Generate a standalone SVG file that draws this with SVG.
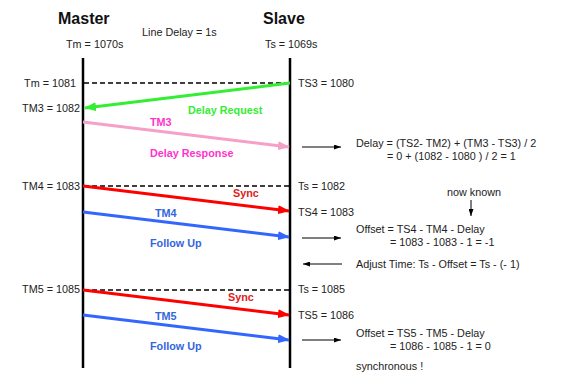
<svg xmlns="http://www.w3.org/2000/svg" width="567" height="379" viewBox="0 0 567 379">
<style>
text{font-family:"Liberation Sans",Arial,sans-serif;font-size:10.8px;fill:#222}
.h{font-size:16px;font-weight:bold;fill:#111}
.b{font-weight:bold}
.life{stroke:#000;stroke-width:2.5}
.dash{stroke:#000;stroke-width:1.3;stroke-dasharray:5,3}
.msg{stroke-width:3;fill:none}
.thin{stroke:#000;stroke-width:1;fill:none}
</style>
<defs>
<marker id="ag" markerWidth="12" markerHeight="9" refX="11" refY="4.5" orient="auto" markerUnits="userSpaceOnUse"><path d="M0,0L12,4.5L0,9z" fill="#33ee33"/></marker>
<marker id="ap" markerWidth="12" markerHeight="9" refX="11" refY="4.5" orient="auto" markerUnits="userSpaceOnUse"><path d="M0,0L12,4.5L0,9z" fill="#f5a0c8"/></marker>
<marker id="ar" markerWidth="12" markerHeight="9" refX="11" refY="4.5" orient="auto" markerUnits="userSpaceOnUse"><path d="M0,0L12,4.5L0,9z" fill="#ff0000"/></marker>
<marker id="ab" markerWidth="12" markerHeight="9" refX="11" refY="4.5" orient="auto" markerUnits="userSpaceOnUse"><path d="M0,0L12,4.5L0,9z" fill="#3366ff"/></marker>
<marker id="ak" markerWidth="7" markerHeight="5" refX="7" refY="2.5" orient="auto" markerUnits="userSpaceOnUse"><path d="M0,0L7,2.5L0,5z" fill="#000"/></marker>
</defs>
<g id="master">
<text class="h" x="58" y="24">Master</text>
<text x="66" y="48">Tm = 1070s</text>
<line class="life" x1="83" y1="58" x2="83" y2="368"/>
</g>
<g id="slave">
<text class="h" x="263" y="24">Slave</text>
<text x="265" y="48">Ts = 1069s</text>
<line class="life" x1="290" y1="58" x2="290" y2="368"/>
</g>
<g id="labels">
<text x="142" y="36">Line Delay = 1s</text>
<text x="76" y="87" text-anchor="end">Tm = 1081</text>
<text x="80" y="112" text-anchor="end">TM3 = 1082</text>
<text x="80" y="190" text-anchor="end">TM4 = 1083</text>
<text x="80" y="293" text-anchor="end">TM5 = 1085</text>
<text x="298" y="87">TS3 = 1080</text>
<text x="298" y="190">Ts = 1082</text>
<text x="298" y="216">TS4 = 1083</text>
<text x="298" y="293">Ts = 1085</text>
<text x="298" y="319">TS5 = 1086</text>
<text class="b" x="188" y="114" style="fill:#33ee33">Delay Request</text>
<text class="b" x="150" y="126" style="fill:#ff33cc">TM3</text>
<text class="b" x="150" y="157" style="fill:#ff33cc">Delay Response</text>
<text class="b" x="233" y="197" style="fill:#e02020">Sync</text>
<text class="b" x="155" y="217" style="fill:#3366dd">TM4</text>
<text class="b" x="150" y="247" style="fill:#3366dd">Follow Up</text>
<text class="b" x="228" y="301" style="fill:#e02020">Sync</text>
<text class="b" x="155" y="320" style="fill:#3366dd">TM5</text>
<text class="b" x="150" y="350" style="fill:#3366dd">Follow Up</text>
<text x="356" y="147">Delay = (TS2- TM2) + (TM3 - TS3) / 2</text>
<text x="387" y="160">= 0 + (1082 - 1080 ) / 2 = 1</text>
<text x="447" y="196">now known</text>
<text x="356" y="233">Offset = TS4 - TM4 - Delay</text>
<text x="390" y="246">= 1083 - 1083 - 1 = -1</text>
<text x="356" y="268">Adjust Time: Ts - Offset = Ts - (- 1)</text>
<text x="356" y="337">Offset = TS5 - TM5 - Delay</text>
<text x="390" y="350">= 1086 - 1085 - 1 = 0</text>
<text x="356" y="370">synchronous !</text>
</g>
<g id="connectors">
<line class="dash" x1="84" y1="83" x2="290" y2="83"/>
<line class="dash" x1="84" y1="186" x2="290" y2="186"/>
<line class="dash" x1="84" y1="290" x2="290" y2="290"/>
<line class="msg" x1="290" y1="83" x2="85" y2="108" stroke="#33ee33" marker-end="url(#ag)"/>
<line class="msg" x1="83" y1="122" x2="289" y2="147" stroke="#f5a0c8" marker-end="url(#ap)"/>
<line class="msg" x1="83" y1="186" x2="289" y2="211" stroke="#ff0000" marker-end="url(#ar)"/>
<line class="msg" x1="83" y1="212" x2="289" y2="237" stroke="#3366ff" marker-end="url(#ab)"/>
<line class="msg" x1="83" y1="290" x2="289" y2="315" stroke="#ff0000" marker-end="url(#ar)"/>
<line class="msg" x1="83" y1="315" x2="289" y2="340" stroke="#3366ff" marker-end="url(#ab)"/>
<line class="thin" x1="302" y1="147" x2="341" y2="147" marker-end="url(#ak)"/>
<line class="thin" x1="302" y1="238" x2="341" y2="238" marker-end="url(#ak)"/>
<line class="thin" x1="342" y1="264" x2="303" y2="264" marker-end="url(#ak)"/>
<line class="thin" x1="302" y1="340" x2="341" y2="340" marker-end="url(#ak)"/>
<line class="thin" x1="471" y1="200" x2="471" y2="216" marker-end="url(#ak)"/>
</g>
</svg>
